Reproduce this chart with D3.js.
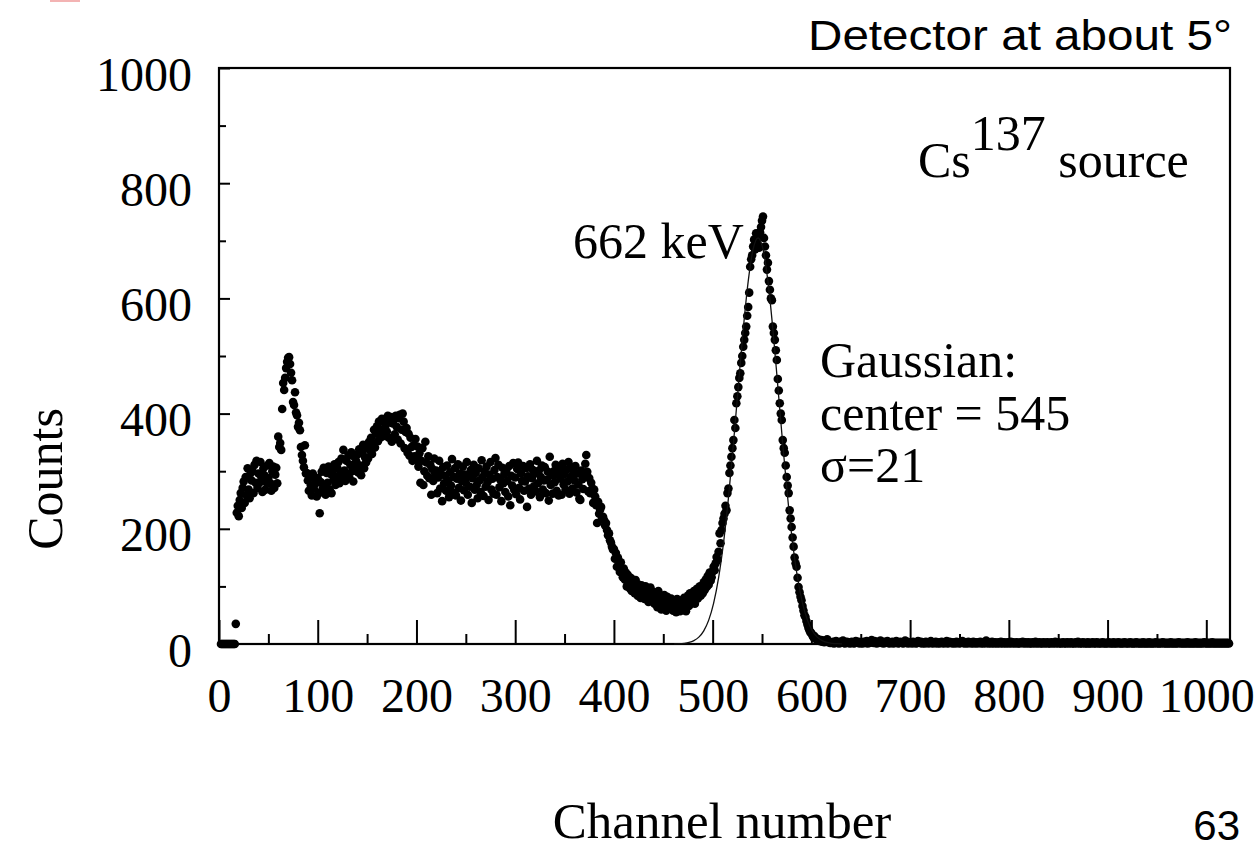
<!DOCTYPE html>
<html><head><meta charset="utf-8">
<script src="https://cdn.jsdelivr.net/npm/d3@7"></script>
<style>html,body{margin:0;padding:0;background:#fff;} svg{display:block;}</style>
</head><body>
<svg id="chart" width="1255" height="850"></svg>
<script>
// ---------- DATA ----------
const startChannel = 2;
const counts = [
  // ch 2-16
  0,0,0,0,0,0,0,0,0,0,0,0,0,0,0,
  // ch 17
  35,
  // ch 18-29
  228,240,222,250,262,236,271,282,245,290,258,305,
  268,253,297,284,300,262,311,280,318,271,   // 30
  296,280,316,289,264,305,293,268,281,310,   // 40
  288,314,279,266,300,308,271,294,306,279,   // 50
  360,342,349,337,408,453,441,462,479,490,   // 60
  497,498,486,471,458,420,415,437,402,397,   // 70
  377,384,371,342,328,318,307,345,296,297,   // 80
  284,266,292,275,258,296,270,288,279,256,   // 90
  288,262,227,281,299,270,306,275,259,297,   // 100
  280,308,268,295,262,301,285,312,276,290,   // 110
  305,316,279,298,322,287,337,301,283,318,   // 120
  296,327,289,311,333,300,282,325,306,317,   // 130
  329,298,338,310,293,331,346,305,324,315,   // 140
  340,322,351,336,358,330,347,372,341,365,   // 150
  378,352,386,368,359,391,372,385,361,380,   // 160
  369,396,358,387,394,351,383,390,364,396,   // 170
  377,355,392,398,348,372,400,386,340,368,   // 180
  375,332,365,327,358,342,318,345,326,356,   // 190
  320,343,308,331,280,318,340,276,300,351,   // 200
  315,292,326,288,311,259,304,283,322,296,   // 210
  301,262,289,318,270,295,248,307,279,292,   // 220
  266,310,284,255,298,275,321,263,290,305,   // 230
  258,287,312,271,296,249,283,308,267,294,   // 240
  280,316,259,291,273,302,245,288,311,268,   // 250
  297,276,253,305,284,264,319,290,257,299,   // 260
  273,308,281,250,294,316,268,287,261,302,   // 270
  323,259,290,311,272,285,248,306,279,295,   // 280
  264,301,283,256,309,241,292,275,314,268,   // 290
  289,260,304,315,271,251,296,283,309,266,   // 300
  282,305,238,291,270,312,259,288,302,274,   // 310
  296,265,318,279,301,255,290,310,268,284,   // 320
  307,262,285,299,249,325,276,293,261,300,   // 330
  281,311,266,294,258,305,287,259,313,277,   // 340
  295,268,303,282,316,261,290,307,270,298,   // 350
  284,309,263,296,277,252,250,301,286,269,   // 360
  292,313,328,299,265,288,262,280,270,245,   // 370
  268,256,241,210,247,226,233,238,218,221,   // 380
  215,206,210,198,189,192,180,176,169,164,   // 390
  165,148,158,134,150,138,125,142,130,116,   // 400
  131,112,124,100,120,108,97,115,92,112,     // 410
  106,88,111,97,84,103,95,80,102,91,         // 420
  96,78,100,84,92,73,88,98,76,85,            // 430
  90,70,86,78,64,92,75,82,60,80,             // 440
  68,85,72,58,82,66,74,62,79,65,             // 450
  58,74,63,55,78,61,70,57,66,75,             // 460
  62,80,68,57,74,84,66,88,72,81,             // 470
  78,92,70,86,96,79,90,100,84,95,            // 480
  88,107,94,112,99,118,103,124,110,116,      // 490
  126,134,128,140,151,146,160,192,175,198,   // 500
  210,218,226,240,232,262,270,297,310,325,   // 510
  340,354,389,375,418,430,446,462,470,488,   // 520
  500,516,528,540,551,570,585,610,655,668,   // 530
  675,690,702,685,713,698,706,688,715,724,   // 540
  735,742,705,690,675,650,662,630,615,600,   // 550
  597,551,540,528,510,493,460,440,418,400,   // 560
  389,354,340,332,310,290,275,262,232,218,   // 570
  203,185,169,150,140,134,115,99,90,82,      // 580
  76,66,58,50,47,40,34,28,24,20,             // 590
  19,15,12,14,9,10,7,8,6,5,                  // 600
  7,4,6,3,5,4,8,3,4,2,                       // 610
  3,2,4,1,3,5,2,3,1,4,2,3,6,2,1,3,4,2,3,1,   // 620
  2,4,3,1,2,5,3,2,4,1,3,2,1,4,3,2,5,1,3,2,   // 640
  4,7,3,2,5,3,1,4,2,3,6,2,3,1,4,2,3,5,2,1,   // 660
  3,2,4,1,3,2,5,3,1,2,4,3,2,1,3,6,2,4,1,3,   // 680
  2,3,1,4,2,3,1,2,5,3,2,4,1,3,2,1,4,2,3,1,   // 700
  3,5,2,1,3,2,4,1,3,2,1,3,4,2,1,3,2,5,1,2,   // 720
  4,2,3,1,2,3,1,4,2,3,1,2,3,5,2,1,3,2,1,4,   // 740
  2,3,1,2,4,1,3,2,1,3,2,4,1,2,3,1,2,6,2,1,   // 760
  3,2,1,4,2,1,3,2,1,2,3,1,4,2,1,3,2,1,2,3,   // 780
  1,2,4,1,3,2,1,2,3,1,2,1,3,2,4,1,2,3,1,2,   // 800
  3,1,2,1,3,2,1,4,2,1,2,3,1,2,1,3,2,1,2,3,   // 820
  1,2,1,3,2,1,2,4,1,2,3,1,2,1,2,3,1,2,1,3,   // 840
  2,1,2,3,1,2,1,2,3,1,4,2,1,2,1,3,2,1,2,1,   // 860
  3,1,2,1,2,3,1,2,1,3,2,1,2,1,2,3,1,2,1,2,   // 880
  1,3,2,1,2,1,3,1,2,1,2,3,1,2,1,2,1,3,2,1,   // 900
  2,1,2,3,1,2,1,2,1,3,2,1,2,1,2,1,3,1,2,1,   // 920
  2,1,3,1,2,1,2,1,2,3,1,2,1,2,1,2,3,1,2,1,   // 940
  2,1,2,1,3,1,2,1,2,1,2,1,3,2,1,2,1,2,1,2,   // 960
  1,3,1,2,1,2,1,2,1,3,1,2,1,2,1,2,1,2,3,1,   // 980
  2,1,2,1,2,1,3,1,2,1,2,1,2,1,2,1,2,1,2,1,   // 1000
  2,1,2,1                                    // 1020
];

// Gaussian fit (center 545, sigma 21) sampled from the drawn curve
const fitChannels = [461,466,471,476,481,486,491,496,501,506,511,516,521,526,531,536,541,546,
                     551,556,561,566,571,576,581,586,591,596,601,606,611,616,621,626,631];
const fitCounts   = [0.2,0.5,1.2,2.7,5.9,11.9,22.8,41.4,71.0,114.9,175.5,253.8,346.9,447.7,546.4,629.6,685.3,705,
                     685.3,629.6,546.4,447.7,346.9,253.8,175.5,114.9,71.0,41.4,22.8,11.9,5.9,2.7,1.2,0.5,0.2];

const xMajorTicks = [0,100,200,300,400,500,600,700,800,900,1000];
const xMinorTicks = [50,150,250,350,450,550,650,750,850,950];
const yMajorTicks = [0,200,400,600,800,1000];
const yMinorTicks = [100,300,500,700,900];

// ---------- CHART ----------
const svg = d3.select('#chart');
const L = 219, R = 1230, T = 68, B = 644;
const x = d3.scaleLinear().domain([0, 1024]).range([L, R]);
const y = d3.scaleLinear().domain([0, 1000]).range([B, T]);
const serif = "'Liberation Serif','Times New Roman',serif";
const sans = "'Liberation Sans',Arial,Helvetica,sans-serif";

// faint red fragment at top-left
svg.append('rect').attr('x', 50).attr('y', 0).attr('width', 30).attr('height', 2)
   .attr('fill', '#f3b3b3');

function styleAxis(g) {
  g.select('.domain').remove();
  g.selectAll('.tick line').attr('stroke', '#000').attr('stroke-width', 2);
}

// x minor ticks
svg.append('g').attr('transform', `translate(0,${B})`)
  .call(d3.axisBottom(x).tickValues(xMinorTicks).tickSize(-10).tickSizeOuter(0).tickFormat(''))
  .call(styleAxis);
// x major ticks + labels
const gx = svg.append('g').attr('transform', `translate(0,${B})`)
  .call(d3.axisBottom(x).tickValues(xMajorTicks).tickSize(-24).tickSizeOuter(0).tickFormat(d3.format('d')))
  .call(styleAxis);
gx.selectAll('.tick text').attr('y', 68).attr('dy', null)
  .attr('font-family', serif).attr('font-size', 48).attr('fill', '#000');

// y minor ticks
svg.append('g').attr('transform', `translate(${L},0)`)
  .call(d3.axisLeft(y).tickValues(yMinorTicks).tickSize(-7).tickSizeOuter(0).tickFormat(''))
  .call(styleAxis);
// y major ticks + labels
const gy = svg.append('g').attr('transform', `translate(${L},0)`)
  .call(d3.axisLeft(y).tickValues(yMajorTicks).tickSize(-11).tickSizeOuter(0).tickFormat(d3.format('d')))
  .call(styleAxis);
gy.selectAll('.tick text').attr('x', -27).attr('dy', 22)
  .attr('font-family', serif).attr('font-size', 48).attr('fill', '#000');

// frame
svg.append('rect').attr('x', L).attr('y', T).attr('width', R - L).attr('height', B - T)
  .attr('fill', 'none').attr('stroke', '#000').attr('stroke-width', 2.2);

// data points
svg.append('g').selectAll('circle').data(counts).join('circle')
  .attr('cx', (d, i) => x(startChannel + i))
  .attr('cy', d => y(d))
  .attr('r', 4.3)
  .attr('fill', '#000');

// Gaussian fit
svg.append('path')
  .datum(fitChannels.map((c, i) => [c, fitCounts[i]]))
  .attr('d', d3.line().x(d => x(d[0])).y(d => y(d[1])).curve(d3.curveMonotoneX))
  .attr('fill', 'none').attr('stroke', '#111').attr('stroke-width', 1.3);

// axis titles
svg.append('text').attr('x', 722).attr('y', 838).attr('text-anchor', 'middle')
  .attr('font-family', serif).attr('font-size', 51).text('Channel number');
svg.append('text').attr('transform', 'translate(62,479) rotate(-90)').attr('text-anchor', 'middle')
  .attr('font-family', serif).attr('font-size', 50).text('Counts');

// annotations
svg.append('text').attr('x', 1232).attr('y', 50).attr('text-anchor', 'end')
  .attr('font-family', sans).attr('font-size', 42)
  .attr('textLength', 424).attr('lengthAdjust', 'spacingAndGlyphs')
  .text('Detector at about 5°');
svg.append('text').attr('x', 1240).attr('y', 840).attr('text-anchor', 'end')
  .attr('font-family', sans).attr('font-size', 42).text('63');

const cs = svg.append('text').attr('x', 918).attr('y', 177)
  .attr('font-family', serif).attr('font-size', 50);
cs.append('tspan').text('Cs');
cs.append('tspan').attr('dy', -27).text('137');
cs.append('tspan').attr('dy', 27).text('\u00a0source');

svg.append('text').attr('x', 573).attr('y', 258)
  .attr('font-family', serif).attr('font-size', 50).text('662 keV');

const gauss = ['Gaussian:', 'center = 545', 'σ=21'];
svg.append('g').selectAll('text').data(gauss).join('text')
  .attr('x', 820).attr('y', (d, i) => 377 + i * 52.5)
  .attr('font-family', serif).attr('font-size', 50).text(d => d);
</script>
</body></html>
